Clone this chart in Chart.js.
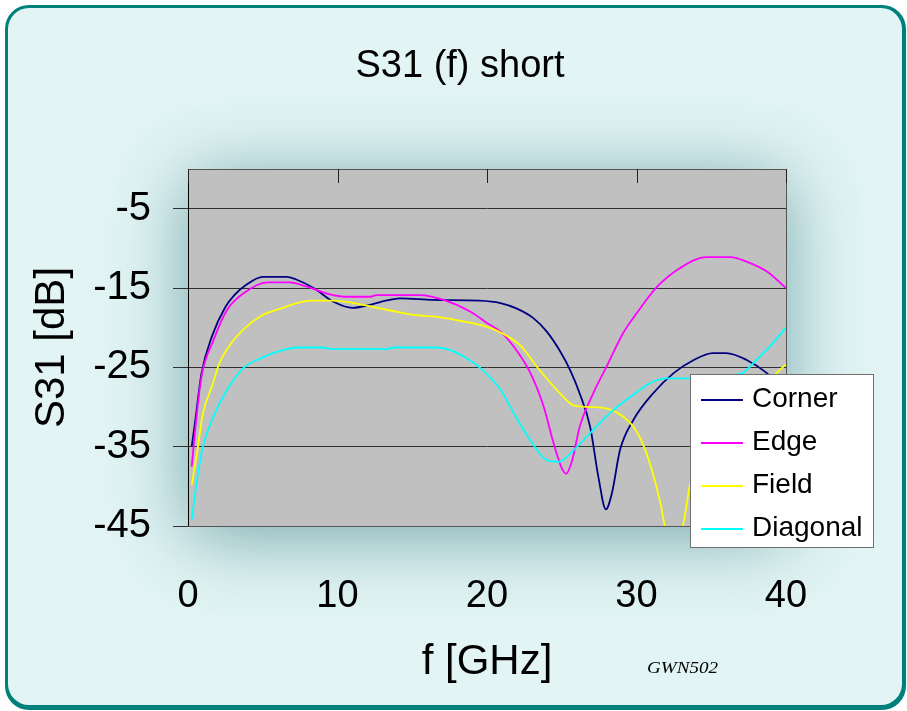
<!DOCTYPE html>
<html>
<head>
<meta charset="utf-8">
<title>S31 (f) short</title>
<script src="https://cdn.jsdelivr.net/npm/chart.js@4.4.1/dist/chart.umd.min.js"></script>
<style>
  html, body { margin: 0; padding: 0; background: #ffffff; }
  #wrap { width: 907px; height: 711px; }
</style>
</head>
<body>
<div id="wrap"><canvas id="s31Chart" width="907" height="711"></canvas></div>
<script>
/*********************************************
 *  DATA
 *********************************************/
const cornerFreq = [0.25, 0.5, 0.9, 1.6, 2.5, 3.1, 3.9, 5.0, 6.6, 7.2, 8.4, 9.7, 11.0, 12.0, 12.8, 14.2, 16.4, 19.5, 20.9, 22.0, 23.1, 24.0, 24.9, 25.6, 26.2, 26.9, 27.45, 27.95, 28.35, 28.9, 29.8, 31.1, 32.5, 33.8, 35.1, 36.0, 37.4, 38.7, 39.4, 40];
const cornerDb   = [-35.0, -31.5, -25.8, -21.1, -17.4, -15.9, -14.6, -13.6, -13.6, -13.9, -15.0, -16.7, -17.5, -17.2, -16.8, -16.3, -16.5, -16.6, -16.9, -17.6, -18.8, -20.5, -23.0, -25.5, -28.3, -32.5, -38.8, -42.9, -40.9, -35.4, -31.6, -28.3, -25.7, -24.1, -23.2, -23.2, -24.1, -25.7, -27.0, -28.5];

const edgeFreq = [0.25, 0.5, 0.9, 1.7, 2.6, 3.7, 5.3, 6.8, 7.9, 9.3, 10.6, 12.2, 12.6, 15.5, 17.1, 18.9, 20.0, 20.9, 21.8, 22.9, 23.8, 24.4, 25.0, 25.3, 25.7, 26.2, 27.1, 28.0, 29.1, 30.0, 31.4, 32.9, 34.7, 36.3, 37.4, 38.7, 40];
const edgeDb   = [-37.5, -32.5, -26.2, -21.6, -17.8, -15.7, -14.3, -14.3, -14.8, -15.7, -16.1, -16.1, -15.9, -15.9, -16.5, -18.0, -19.4, -20.5, -22.4, -25.7, -30.0, -34.2, -37.7, -38.4, -36.7, -32.5, -28.3, -24.9, -20.7, -18.2, -14.8, -12.5, -11.1, -11.1, -11.7, -12.9, -15.0];

const fieldFreq = [0.25, 0.6, 1.0, 1.6, 2.1, 2.8, 3.9, 5.0, 6.2, 7.3, 8.2, 9.7, 11.1, 12.4, 13.7, 15.1, 16.9, 18.4, 20.0, 20.9, 22.2, 23.5, 24.9, 25.8, 26.9, 28.2, 29.1, 29.8, 30.5, 31.1, 31.6, 31.9, 32.5, 33.1, 33.6, 34.2, 35.0, 36.0, 37.0, 38.0, 39.0, 40];
const fieldDb   = [-39.8, -35.8, -30.8, -27.4, -24.5, -22.2, -19.9, -18.4, -17.6, -16.9, -16.6, -16.6, -16.9, -17.4, -17.9, -18.4, -18.7, -19.2, -19.9, -20.6, -22.2, -25.3, -28.3, -29.8, -30.0, -30.3, -31.2, -32.5, -35.0, -38.4, -42.1, -45.0, -48.0, -45.0, -39.6, -36.0, -32.0, -29.8, -28.5, -27.5, -26.3, -24.6];

const diagFreq = [0.25, 0.6, 1.0, 1.7, 2.6, 3.7, 4.8, 6.2, 7.3, 9.0, 9.7, 13.3, 13.7, 16.6, 17.5, 18.4, 19.5, 20.9, 21.8, 22.9, 24.0, 24.8, 25.6, 26.9, 28.2, 29.6, 30.9, 32.0, 33.4, 35.0, 36.2, 37.1, 38.0, 38.9, 40];
const diagDb   = [-44.2, -39.2, -35.0, -31.2, -27.9, -25.1, -23.9, -22.9, -22.5, -22.5, -22.7, -22.7, -22.5, -22.5, -22.8, -23.6, -25.0, -27.8, -30.8, -34.2, -36.7, -36.9, -35.8, -33.3, -30.8, -28.7, -27.0, -26.4, -26.4, -26.3, -26.0, -25.7, -24.1, -22.4, -20.0];

const seriesNames  = ["Corner", "Edge", "Field", "Diagonal"];
const seriesColors = ["#000080", "#ff00ff", "#ffff00", "#00ffff"];
const xTickValues  = [0, 10, 20, 30, 40];
const yTickValues  = [-45, -35, -25, -15, -5];

const FONT = "'Liberation Sans', Arial, sans-serif";
const PLOT_BG = "#c0c0c0";

function toPoints(freq, db) {
  return freq.map((f, i) => ({ x: f, y: db[i] }));
}

/*********************************************
 *  BACKGROUND: teal frame + glow + grey plot
 *********************************************/
const backdropPlugin = {
  id: "backdrop",
  beforeDraw(chart) {
    const { ctx, width, height, chartArea: a } = chart;
    ctx.save();
    ctx.fillStyle = "#ffffff";
    ctx.fillRect(0, 0, width, height);

    ctx.beginPath();
    ctx.roundRect(5, 5, width - 6, height - 6, 24);
    ctx.fillStyle = "#00807c";
    ctx.fill();

    ctx.beginPath();
    ctx.roundRect(8, 8, width - 13, height - 14, 21);
    ctx.fillStyle = "#e2f4f4";
    ctx.fill();
    ctx.clip();

    // soft shadow round the plot area
    ctx.shadowColor = "rgba(60,125,130,0.65)";
    ctx.shadowBlur = 70;
    ctx.shadowOffsetY = 10;
    ctx.fillStyle = PLOT_BG;
    ctx.fillRect(a.left, a.top, a.right - a.left, a.bottom - a.top);
    ctx.restore();

    ctx.save();
    ctx.fillStyle = PLOT_BG;
    ctx.fillRect(a.left, a.top, a.right - a.left, a.bottom - a.top);
    ctx.restore();
  },
};

/*********************************************
 *  OVERLAY: frame of plot, top ticks, legend, texts
 *********************************************/
const overlayPlugin = {
  id: "overlay",
  afterDraw(chart) {
    const { ctx, chartArea: a, scales } = chart;
    ctx.save();

    // plot border (top, right, bottom)
    ctx.strokeStyle = "#555555";
    ctx.lineWidth = 1;
    ctx.beginPath();
    ctx.moveTo(a.left, a.top + 0.5);
    ctx.lineTo(a.right + 0.5, a.top + 0.5);
    ctx.lineTo(a.right + 0.5, a.bottom + 0.5);
    ctx.lineTo(a.left, a.bottom + 0.5);
    ctx.stroke();

    // x tick marks hang from the top edge
    ctx.strokeStyle = "#202020";
    ctx.beginPath();
    xTickValues.forEach(v => {
      const px = Math.round(scales.x.getPixelForValue(v)) + 0.5;
      ctx.moveTo(px, a.top);
      ctx.lineTo(px, a.top + 14);
    });
    ctx.stroke();

    // legend box
    const lx = 690.5, ly = 374.5, lw = 183, lh = 173;
    ctx.fillStyle = "#ffffff";
    ctx.fillRect(lx, ly, lw, lh);
    ctx.strokeStyle = "#707070";
    ctx.strokeRect(lx, ly, lw, lh);

    ctx.font = "28px " + FONT;
    ctx.textBaseline = "middle";
    ctx.textAlign = "left";
    chart.data.datasets.forEach((ds, i) => {
      const rowY = 400 + i * 43;
      ctx.strokeStyle = ds.borderColor;
      ctx.lineWidth = 2;
      ctx.beginPath();
      ctx.moveTo(701, rowY);
      ctx.lineTo(743, rowY);
      ctx.stroke();
      ctx.fillStyle = "#000000";
      ctx.fillText(ds.label, 752, rowY - 1);
    });

    // chart title
    ctx.font = "38px " + FONT;
    ctx.textAlign = "center";
    ctx.textBaseline = "alphabetic";
    ctx.fillStyle = "#000000";
    ctx.fillText("S31 (f) short", 460, 77);

    // small signature
    ctx.font = "italic 17px 'Liberation Serif', 'DejaVu Serif', serif";
    const sig = "GWN502";
    const w = ctx.measureText(sig).width;
    ctx.translate(647, 673);
    ctx.scale(71 / w, 1);
    ctx.textAlign = "left";
    ctx.fillText(sig, 0, 0);

    ctx.restore();
  },
};

/*********************************************
 *  CHART
 *********************************************/
const seriesFreq = [cornerFreq, edgeFreq, fieldFreq, diagFreq];
const seriesDb = [cornerDb, edgeDb, fieldDb, diagDb];

const s31Chart = new Chart(document.getElementById("s31Chart").getContext("2d"), {
  type: "line",
  data: {
    datasets: seriesNames.map((name, i) => ({
      label: name,
      data: toPoints(seriesFreq[i], seriesDb[i]),
      borderColor: seriesColors[i],
      backgroundColor: seriesColors[i],
      borderWidth: 1.8,
      pointRadius: 0,
      fill: false,
      cubicInterpolationMode: "monotone",
      order: seriesNames.length - i,
    })),
  },
  options: {
    responsive: false,
    animation: false,
    events: [],
    layout: { padding: { left: 0, right: 121, top: 169, bottom: 0 } },
    plugins: {
      legend: { display: false },
      title: { display: false },
      tooltip: { enabled: false },
    },
    scales: {
      x: {
        type: "linear",
        min: 0,
        max: 40,
        afterBuildTicks: (s) => { s.ticks = xTickValues.map(v => ({ value: v })); },
        afterFit: (s) => { s.height = 185; s.paddingLeft = 0; s.paddingRight = 0; },
        grid: { display: false, drawTicks: false },
        border: { display: false },
        ticks: { color: "#000000", font: { family: FONT, size: 38 }, padding: 48, maxRotation: 0, autoSkip: false },
        title: { display: true, text: "f [GHz]", color: "#000000", font: { family: FONT, size: 42 }, padding: { top: 0, bottom: 23 } },
      },
      y: {
        type: "linear",
        min: -45,
        max: 0,
        afterBuildTicks: (s) => { s.ticks = yTickValues.map(v => ({ value: v })); },
        afterFit: (s) => { s.width = 188; s.paddingTop = 0; s.paddingBottom = 0; },
        grid: { color: "#303030", lineWidth: 1, drawTicks: true, tickLength: 15 },
        border: { display: true, color: "#000000", width: 1 },
        ticks: { color: "#000000", font: { family: FONT, size: 40 }, padding: 22 },
        title: { display: true, text: "S31 [dB]", color: "#000000", font: { family: FONT, size: 42 }, padding: { top: 27, bottom: 0 } },
      },
    },
  },
  plugins: [backdropPlugin, overlayPlugin],
});
</script>
</body>
</html>
